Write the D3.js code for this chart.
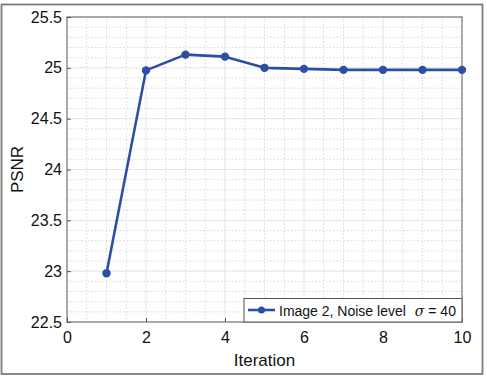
<!DOCTYPE html>
<html>
<head>
<meta charset="utf-8">
<script src="https://cdn.jsdelivr.net/npm/d3@7"></script>
<style>
  body { margin: 0; background: #fff; }
  text { font-family: "Liberation Sans", Arial, sans-serif; fill: #111; }
</style>
</head>
<body>
<div id="chart"></div>
<script>
const iterations = [1, 2, 3, 4, 5, 6, 7, 8, 9, 10];
const psnr = [22.98, 24.975, 25.13, 25.11, 25.0, 24.99, 24.98, 24.98, 24.98, 24.98];
const xTicks = [0, 2, 4, 6, 8, 10];
const yTicks = [22.5, 23, 23.5, 24, 24.5, 25, 25.5];
const legendLabel = 'Image 2, Noise level';

const W = 487, H = 376;
const mLeft = 67, mRight = 462, mTop = 17, mBottom = 322;
const lineColor = '#2d4ea4';

const svg = d3.select('#chart').append('svg')
    .attr('width', W)
    .attr('height', H);

// outer frame of the figure
svg.append('rect')
    .attr('x', 1.5).attr('y', 4.5)
    .attr('width', 481).attr('height', 369.5)
    .attr('fill', 'none')
    .attr('stroke', '#7a7a7a')
    .attr('stroke-width', 1.8);

const x = d3.scaleLinear().domain([0, 10]).range([mLeft, mRight]);
const y = d3.scaleLinear().domain([22.5, 25.5]).range([mBottom, mTop]);

// minor grid (dotted)
const grid = svg.append('g');
grid.selectAll('line.mx')
    .data(d3.range(0.5, 10, 0.5).filter(v => v % 2 !== 0))
    .enter().append('line')
    .attr('x1', d => x(d)).attr('x2', d => x(d))
    .attr('y1', mTop).attr('y2', mBottom)
    .attr('stroke', '#cfcfcf').attr('stroke-width', 0.8)
    .attr('stroke-dasharray', '1.5,2');
grid.selectAll('line.my')
    .data(d3.range(0, 31).map(i => 22.5 + i * 0.1).filter((v, i) => i % 5 !== 0))
    .enter().append('line')
    .attr('x1', mLeft).attr('x2', mRight)
    .attr('y1', d => y(d)).attr('y2', d => y(d))
    .attr('stroke', '#cfcfcf').attr('stroke-width', 0.8)
    .attr('stroke-dasharray', '1.5,2');

// major grid
grid.selectAll('line.gx')
    .data(xTicks.slice(1, -1))
    .enter().append('line')
    .attr('x1', d => x(d)).attr('x2', d => x(d))
    .attr('y1', mTop).attr('y2', mBottom)
    .attr('stroke', '#e4e4e4').attr('stroke-width', 1);
grid.selectAll('line.gy')
    .data(yTicks.slice(1, -1))
    .enter().append('line')
    .attr('x1', mLeft).attr('x2', mRight)
    .attr('y1', d => y(d)).attr('y2', d => y(d))
    .attr('stroke', '#e4e4e4').attr('stroke-width', 1);

// axes
const xAxis = svg.append('g')
    .attr('transform', `translate(0,${mBottom})`)
    .call(d3.axisBottom(x).tickValues(xTicks).tickSize(-4).tickPadding(10).tickFormat(d3.format('d')));
const yAxis = svg.append('g')
    .attr('transform', `translate(${mLeft},0)`)
    .call(d3.axisLeft(y).tickValues(yTicks).tickSize(-4).tickPadding(5).tickFormat(d => d));
[xAxis, yAxis].forEach(a => {
    a.select('.domain').remove();
    a.selectAll('.tick line').attr('stroke', '#555');
    a.selectAll('.tick text').style('font-size', '16px').attr('fill', '#111');
});

// box
svg.append('rect')
    .attr('x', mLeft).attr('y', mTop)
    .attr('width', mRight - mLeft).attr('height', mBottom - mTop)
    .attr('fill', 'none')
    .attr('stroke', '#555')
    .attr('stroke-width', 1);

// data line
const line = d3.line()
    .x((d, i) => x(iterations[i]))
    .y(d => y(d));
svg.append('path')
    .datum(psnr)
    .attr('fill', 'none')
    .attr('stroke', lineColor)
    .attr('stroke-width', 2.6)
    .attr('stroke-linejoin', 'round')
    .attr('d', line);
svg.append('g').selectAll('circle')
    .data(psnr)
    .enter().append('circle')
    .attr('cx', (d, i) => x(iterations[i]))
    .attr('cy', d => y(d))
    .attr('r', 4.2)
    .attr('fill', lineColor);

// axis labels
svg.append('text')
    .attr('x', (mLeft + mRight) / 2).attr('y', 366)
    .attr('text-anchor', 'middle')
    .style('font-size', '17px')
    .text('Iteration');
svg.append('text')
    .attr('transform', `translate(23,${(mTop + mBottom) / 2}) rotate(-90)`)
    .attr('text-anchor', 'middle')
    .style('font-size', '17px')
    .text('PSNR');

// legend
const lg = svg.append('g').attr('transform', 'translate(244,298.5)');
lg.append('rect')
    .attr('width', 218).attr('height', 23.5)
    .attr('fill', '#fff')
    .attr('stroke', '#555')
    .attr('stroke-width', 1);
lg.append('line')
    .attr('x1', 4).attr('x2', 31).attr('y1', 11.5).attr('y2', 11.5)
    .attr('stroke', lineColor).attr('stroke-width', 2.6);
lg.append('circle')
    .attr('cx', 17.5).attr('cy', 11.5).attr('r', 3.5)
    .attr('fill', lineColor);
const lt = lg.append('text')
    .attr('x', 35).attr('y', 17)
    .style('font-size', '14px');
lt.append('tspan').text(legendLabel);
lt.append('tspan').attr('dx', 9).style('font-style', 'italic').style('font-family', 'DejaVu Serif, serif').text('σ');
lt.append('tspan').text(' = 40');
</script>
</body>
</html>
